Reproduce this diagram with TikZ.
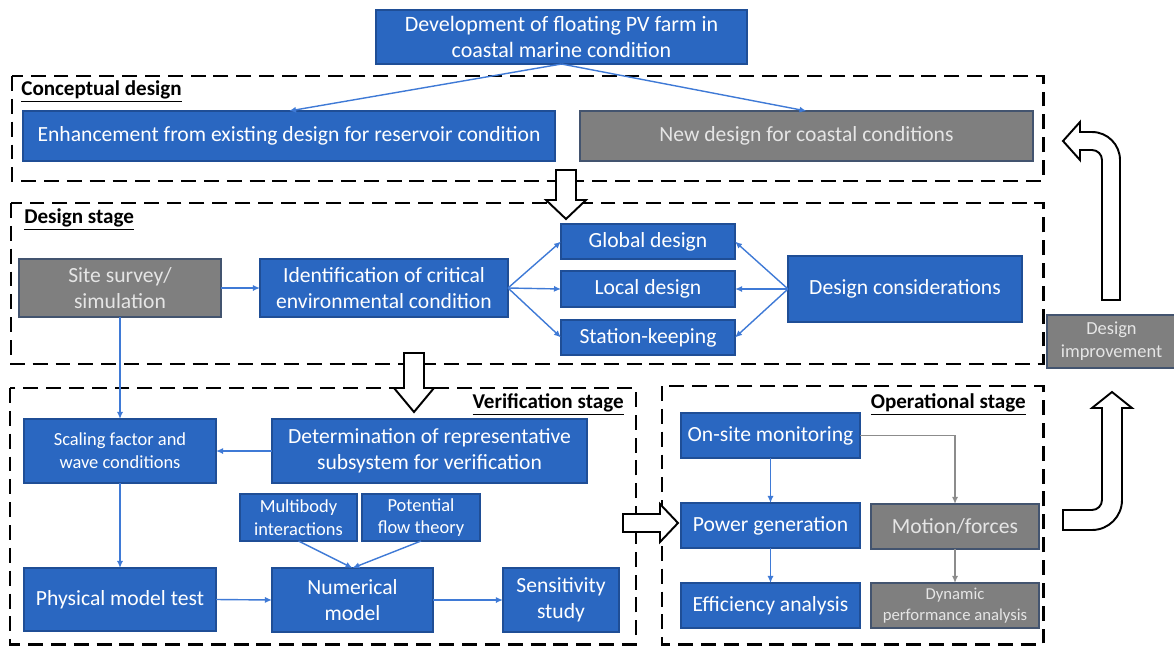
\documentclass[tikz,border=0pt]{standalone}
\usepackage{fontspec}
\setmainfont{Carlito}
\usetikzlibrary{arrows.meta}
\definecolor{boxblue}{HTML}{2A67C1}
\definecolor{lineblue}{HTML}{1F4E96}
\definecolor{boxgray}{HTML}{7F7F7F}
\definecolor{linegray}{HTML}{43546F}
\definecolor{edgeblue}{HTML}{3F7AD6}
\definecolor{edgegray}{HTML}{8C8C8C}
\tikzset{
    boxb/.style = {rectangle, draw=lineblue, line width=0.8pt, fill=boxblue, align=center, text=white, inner sep=0pt, outer sep=0pt, font=\fontsize{12.3}{14.6}\selectfont},
    boxg/.style = {boxb, draw=linegray, fill=boxgray, text=white!90!black},
    wh/.style 2 args = {minimum width=#1*0.02cm, minimum height=#2*0.02cm},
    smalltxt/.style = {font=\fontsize{10.5}{13}\selectfont},
    tinytxt/.style = {font=\fontsize{9.5}{11.5}\selectfont},
    edgeb/.style = {-{Latex[length=4pt,width=3.5pt]}, line width=0.8pt, edgeblue}, % blue flow
    edgeg/.style = {edgeb, edgegray}, % gray flow
    stagebox/.style = {line width=1.7pt, dash pattern=on 8.5pt off 4.5pt},
    stagelabel/.style = {inner sep=0pt, font=\fontsize{12}{14}\selectfont\bfseries},
    blockarr/.style = {draw=black, line width=1.1pt, fill=white, line join=miter}
}
\begin{document}
\begin{tikzpicture}[x=0.02cm, y=-0.02cm]
  \useasboundingbox (0,0) rectangle (1174,646);
  % stages
  \draw[stagebox] (12,76) rectangle (1043,181);
  \draw[stagebox] (11,203) rectangle (1043,364);
  \draw[stagebox] (10,388) rectangle (636,644);
  \draw[stagebox] (662,386) rectangle (1043,644);
  \node[stagelabel, anchor=base west] (lconc) at (21,95) {\underline{Conceptual design}};
  \node[stagelabel, anchor=base west] (ldes) at (24,223) {\underline{Design stage}};
  \node[stagelabel, anchor=base east] (lver) at (624,408) {\underline{Verification stage}};
  \node[stagelabel, anchor=base east] (lop) at (1026,408) {\underline{Operational stage}};

  \node[boxb, wh={371}{54}, font=\fontsize{12.5}{15}\selectfont] (top) at (561.5,37) {Development of floating PV farm in\\coastal marine condition};
  \node[boxb, wh={532}{50}] (enh) at (289,136) {Enhancement from existing design for reservoir condition};
  \node[boxg, wh={453}{50}] (newd) at (806.5,136) {New design for coastal conditions};
  \node[boxg, wh={202}{58}] (site) at (120,288) {Site survey/\\simulation};
  \node[boxb, wh={248}{58}] (ident) at (384,288) {Identification of critical\\environmental condition};
  \node[boxb, wh={174}{35}] (glob) at (648,241.5) {Global design};
  \node[boxb, wh={174}{36}] (loc) at (648,289) {Local design};
  \node[boxb, wh={174}{35}] (stat) at (648,337.5) {Station-keeping};
  \node[boxb, wh={234}{66}] (dcons) at (905,289) {Design considerations};
  \node[boxb, smalltxt, wh={192}{64}] (scal) at (120,451) {Scaling factor and\\wave conditions};
  \node[boxb, wh={315}{64}] (deter) at (429.5,451) {Determination of representative\\subsystem for verification};
  \node[boxb, smalltxt, wh={117}{47}] (multi) at (298.5,517.5) {Multibody\\interactions};
  \node[boxb, smalltxt, wh={118}{47}] (poten) at (421,517.5) {Potential\\flow theory};
  \node[boxb, wh={192}{63}] (phys) at (120,599.5) {Physical model test};
  \node[boxb, wh={161}{64}] (numer) at (352.5,600) {Numerical\\model};
  \node[boxb, wh={116}{64}] (sens) at (561,600) {Sensitivity\\study};
  \node[boxb, wh={179}{45}] (onsite) at (770.5,435.5) {On-site monitoring};
  \node[boxb, wh={179}{45}] (power) at (770.5,525.5) {Power generation};
  \node[boxb, wh={179}{45}] (effic) at (770.5,605.5) {Efficiency analysis};
  \node[boxg, wh={168}{45}] (motion) at (955,526.5) {Motion/forces};
  \node[boxg, tinytxt, wh={168}{45}] (dynam) at (955,605.5) {Dynamic\\performance analysis};
  \node[boxg, smalltxt, wh={129}{53}] (improv) at (1111.5,341.5) {Design\\improvement};

  \draw[edgeb] (top.south) -- (enh.north);
  \draw[edgeb] (top.south) -- (newd.north);
  \draw[edgeb] (site.east) -- (ident.west);
  \foreach \n in {glob,loc,stat} {
    \draw[edgeb] (ident.east) -- (\n.west);
    \draw[edgeb] (dcons.west) -- (\n.east);
  }
  \draw[edgeb] (site.south) -- (scal.north);
  \draw[edgeb] (deter.west) -- (scal.east);
  \draw[edgeb] (scal.south) -- (phys.north);
  \draw[edgeb] (multi.south) -- (numer.north);
  \draw[edgeb] (poten.south) -- (numer.north);
  \draw[edgeb] (phys.east) -- (numer.west);
  \draw[edgeb] (numer.east) -- (sens.west);
  \draw[edgeb] (onsite.south) -- (power.north);
  \draw[edgeb] (power.south) -- (effic.north);
  \draw[edgeg] (onsite.east) -| (motion.north);
  \draw[edgeg] (motion.south) -- (dynam.north);

  % block arrows between stages
  \draw[blockarr] (556,170) -- (576,170) -- (576,200) -- (586,200) -- (566,219) -- (546,200) -- (556,200) -- cycle;
  \draw[blockarr] (404,353) -- (424,353) -- (424,388) -- (434,388) -- (414,412) -- (394,388) -- (404,388) -- cycle;
  \draw[blockarr] (623,514) -- (660,514) -- (660,504) -- (678,523) -- (660,542) -- (660,532) -- (623,532) -- cycle;
  \draw[blockarr] (1102,300) -- (1120,300) -- (1120,160) arc (0:90:0.56cm) -- (1080,132) -- (1080,122) -- (1063,141) -- (1080,160) -- (1080,150) -- (1092,150) arc (90:0:0.2cm) -- cycle;
  \draw[blockarr] (1063,510) -- (1092,510) arc (-90:0:0.2cm) -- (1102,408) -- (1092,408) -- (1112,392) -- (1132,408) -- (1122,408) -- (1122,500) arc (0:-90:0.6cm) -- (1063,530) -- cycle;
\end{tikzpicture}
\end{document}
